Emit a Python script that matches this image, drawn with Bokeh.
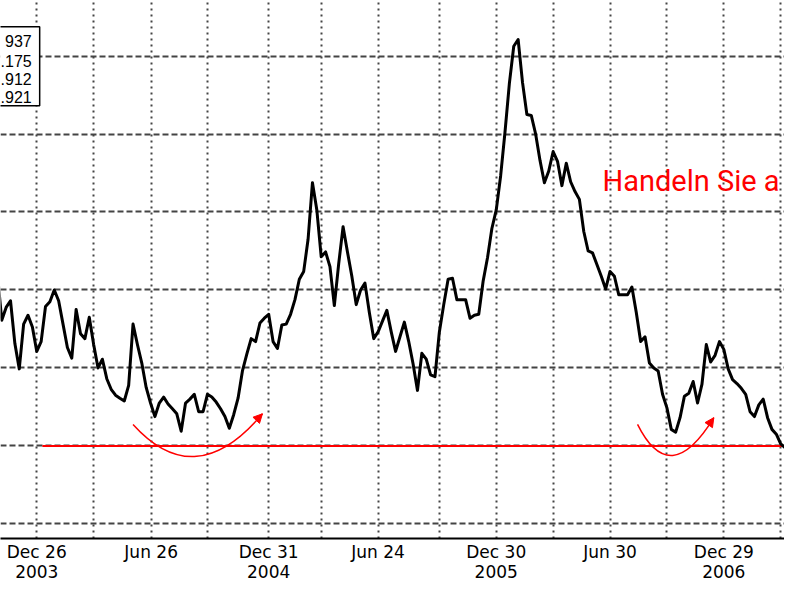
import pandas as pd
from bokeh.plotting import figure
from bokeh.models import Range1d, FixedTicker, Arrow, NormalHead
from bokeh.core.properties import value
from bokeh.embed import file_html
from bokeh.resources import INLINE

# ---- data (weekly closes) ----
first_week = "2003-10-24"
price = [
    76.06, 73.06, 73.88, 74.31, 71.56, 69.94, 72.81, 73.38, 72.63,
    71.06, 71.69, 73.94, 74.25, 75.00, 74.31, 72.81, 71.31, 70.63, 73.75,
    72.19, 71.88, 73.25, 71.50, 70.00, 70.56, 69.31, 68.63, 68.25, 68.06,
    67.88, 68.88, 72.81, 71.50, 70.31, 68.75, 67.75, 66.88, 67.75, 68.13,
    67.69, 67.38, 67.06, 65.94, 67.75, 68.00, 68.31, 67.19, 67.19, 68.31,
    68.13, 67.81, 67.38, 66.88, 66.13, 67.00, 68.06, 69.81, 70.88, 71.88,
    71.69, 72.88, 73.19, 73.44, 71.69, 71.25, 72.75, 72.81, 73.44, 74.38,
    75.69, 76.19, 78.25, 81.88, 80.13, 77.13, 77.44, 76.50, 74.00, 76.69,
    79.06, 77.44, 75.88, 74.06, 75.00, 75.44, 73.56, 71.88, 72.31, 73.00,
    73.69, 72.31, 71.06, 72.00, 72.94, 71.69, 70.25, 68.56, 70.94, 70.56,
    69.56, 69.44, 72.31, 74.06, 75.69, 75.75, 74.38, 74.38, 74.38, 73.19,
    73.38, 73.44, 75.56, 77.06, 78.94, 80.13, 82.31, 85.13, 88.25, 90.63,
    91.06, 88.31, 86.25, 86.19, 85.00, 83.31, 81.88, 82.63, 83.88, 83.25,
    81.69, 83.13, 81.94, 81.31, 80.81, 78.75, 77.50, 77.38, 76.63, 75.88,
    75.06, 76.19, 75.88, 74.69, 74.69, 74.69, 75.19, 73.56, 71.69, 72.00,
    70.31, 70.00, 69.81, 68.31, 67.44, 66.06, 65.88, 66.81, 68.19, 68.38,
    69.13, 67.75, 68.94, 71.50, 70.38, 70.81, 71.69, 71.19, 69.94, 69.25,
    69.00, 68.69, 68.31, 67.19, 66.88, 67.63, 68.00, 66.81, 66.06, 65.75,
    65.13, 64.88,
]
dates = pd.date_range(first_week, periods=len(price), freq="7D")

tick_dates = ["2003-12-26", "2004-03-26", "2004-06-26", "2004-09-24",
              "2004-12-31", "2005-03-25", "2005-06-24", "2005-09-30",
              "2005-12-30", "2006-03-31", "2006-06-30", "2006-09-29",
              "2006-12-29", "2007-03-30"]
tick_labels = ["Dec 26\n2003", "", "Jun 26", "", "Dec 31\n2004", "",
               "Jun 24", "", "Dec 30\n2005", "", "Jun 30", "",
               "Dec 29\n2006", ""]
grid_levels = [60, 65, 70, 75, 80, 85, 90]

support_dates = ["2004-01-04", "2007-05-31"]
support_level = 65

# visible part of the (cut-off) quote box
info_values = ["937", ".175", ".912", ".921"]
info_levels = [90.94, 89.69, 88.56, 87.38]
info_text_date = "2003-12-18"
info_box = dict(left="2003-10-01", right="2003-12-30 16:00", top=91.88, bottom=86.81)

# rounding-bottom markers: start, control, end, arrow-from
arc_x0 = ["2004-05-28", "2006-08-13"]
arc_y0 = [66.38, 66.38]
arc_cx = ["2004-09-05", "2006-10-04"]
arc_cy = [61.94, 62.19]
arc_x1 = ["2004-12-21", "2006-12-13"]
arc_y1 = [67.06, 66.81]
arrow_from_x = ["2004-11-29", "2006-11-23"]
arrow_from_y = [66.13, 65.63]

note_text = "Handeln Sie a"
note_date = "2006-06-18"
note_level = 82.0


def ms(d):
    return pd.Timestamp(d).value / 1e6


RED = "#ff0000"

p = figure(width=784, height=584, x_axis_type="datetime",
           output_backend="svg", toolbar_location=None,
           x_range=Range1d(ms("2003-10-29 00:00"), ms("2007-04-05 02:00")),
           y_range=Range1d(59.0625, 93.5625),
           y_axis_location=None,
           min_border_left=0, min_border_right=0, min_border_top=0,
           min_border_bottom=0, outline_line_color=None,
           background_fill_color="white", border_fill_color="white")

tick_ms = [ms(d) for d in tick_dates]
p.xaxis.ticker = FixedTicker(ticks=tick_ms)
p.xaxis.major_label_overrides = {t: lab for t, lab in zip(tick_ms, tick_labels)}
p.xaxis.axis_line_color = "black"
p.xaxis.axis_line_width = 2
p.xaxis.major_tick_in = 0
p.xaxis.major_tick_out = 0
p.xaxis.minor_tick_in = 0
p.xaxis.minor_tick_out = 0
p.xaxis.major_label_standoff = 3
p.xaxis.major_label_text_font = "DejaVu Sans"
p.xaxis.major_label_text_font_size = "17px"
p.xaxis.major_label_text_color = "black"
p.xaxis.major_label_text_line_height = 1.0

p.xgrid.ticker = FixedTicker(ticks=tick_ms)
p.xgrid.grid_line_color = "#444444"
p.xgrid.grid_line_width = 2
p.xgrid.grid_line_dash = "2 4"
p.ygrid.ticker = FixedTicker(ticks=grid_levels)
p.ygrid.grid_line_color = "#444444"
p.ygrid.grid_line_width = 2
p.ygrid.grid_line_dash = "6 3"

# support line
p.line([ms(d) for d in support_dates], [support_level, support_level],
       line_color=RED, line_width=2)

# price line
p.line(dates, price, line_color="black", line_width=3, line_join="round")

# rounding-bottom arcs with arrow heads
p.quadratic(x0=[ms(d) for d in arc_x0], y0=arc_y0,
            x1=[ms(d) for d in arc_x1], y1=arc_y1,
            cx=[ms(d) for d in arc_cx], cy=arc_cy,
            line_color=RED, line_width=1.5)
for xs, ys, xe, ye in zip(arrow_from_x, arrow_from_y, arc_x1, arc_y1):
    p.add_layout(Arrow(end=NormalHead(size=9, fill_color=RED, line_color=RED, line_width=1),
                       x_start=ms(xs), y_start=ys, x_end=ms(xe), y_end=ye,
                       line_alpha=0))

# quote box (partly outside the view)
p.quad(left=[ms(info_box["left"])], right=[ms(info_box["right"])],
       top=[info_box["top"]], bottom=[info_box["bottom"]],
       fill_color="white", line_color="black", line_width=1.5)
p.text(x=[ms(info_text_date)] * len(info_values), y=info_levels, text=info_values,
       text_align="right", text_baseline="middle",
       text_font=value("Liberation Sans"), text_font_size="16px", text_color="black")

# red note
p.text(x=[ms(note_date)], y=[note_level], text=[note_text],
       text_align="left", text_baseline="alphabetic",
       text_font=value("Roboto"), text_font_size="29px", text_color=RED)

open("out.html", "w").write(file_html(p, INLINE))
